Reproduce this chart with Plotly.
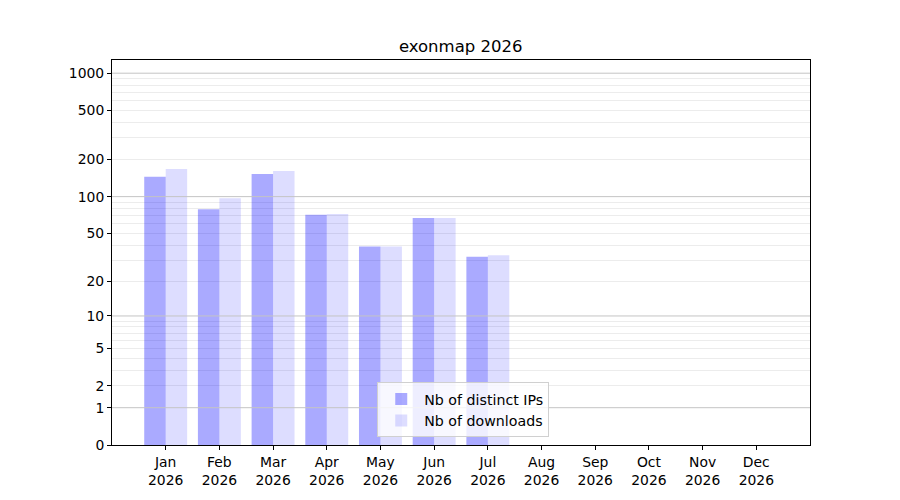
import numpy as np
import plotly.graph_objects as go

# monthly stats for exonmap, 2026
months = ["Jan", "Feb", "Mar", "Apr", "May", "Jun", "Jul", "Aug", "Sep", "Oct", "Nov", "Dec"]
year = "2026"
distinct_ips = [145, 79, 153, 71, 39, 67, 32, 0, 0, 0, 0, 0]
downloads = [168, 97, 162, 72, 39, 67, 33, 0, 0, 0, 0, 0]

y_ticks = [0, 1, 2, 5, 10, 20, 50, 100, 200, 500, 1000]
major_grid = [1, 10, 100, 1000]
minor_grid = [2, 3, 4, 5, 6, 7, 8, 9,
              20, 30, 40, 50, 60, 70, 80, 90,
              200, 300, 400, 500, 600, 700, 800, 900]


def scale(v):
    # y axis is log10(1 + n) so that zero stays on the chart
    return np.log10(1 + np.asarray(v, dtype=float))


x_labels = [f"{m}<br>{year}" for m in months]

fig = go.Figure()
fig.add_trace(go.Bar(x=x_labels, y=scale(distinct_ips), name="Nb of distinct IPs",
                     marker=dict(color="rgba(0,0,255,0.333)", line_width=0)))
fig.add_trace(go.Bar(x=x_labels, y=scale(downloads), name="Nb of downloads",
                     marker=dict(color="rgba(0,0,255,0.133)", line_width=0)))

# darker lines at the decades
for v in major_grid:
    fig.add_hline(y=float(scale(v)), line_color="#c4c4c4", line_width=1, layer="above")

fig.update_layout(
    width=900, height=500,
    title=dict(text="exonmap 2026", x=0.503, xanchor="center", y=0.924, yanchor="middle",
               font=dict(size=16.5, color="black")),
    font=dict(family="DejaVu Sans", size=13.9, color="black"),
    plot_bgcolor="white", paper_bgcolor="white",
    margin=dict(l=104, r=98, t=52, b=63),
    barmode="group", bargap=0.2, bargroupgap=0,
    legend=dict(x=0.38, y=0.02, xanchor="left", yanchor="bottom",
                bgcolor="rgba(255,255,255,0.8)", bordercolor="#d0d0d0", borderwidth=1,
                font=dict(size=14.2), tracegroupgap=0, itemwidth=36),
)

fig.update_xaxes(range=[-1, 12], showline=True, mirror=True, linecolor="black", linewidth=1,
                 ticks="outside", ticklen=4, tickcolor="black", showgrid=False)
fig.update_yaxes(range=[0, 3.107], showline=True, mirror=True, linecolor="black", linewidth=1,
                 ticks="outside", ticklen=4, tickcolor="black",
                 tickmode="array", tickvals=scale(y_ticks), ticktext=[str(t) for t in y_ticks],
                 showgrid=False, zeroline=False,
                 minor=dict(tickmode="array", tickvals=scale(minor_grid), showgrid=True,
                            gridcolor="#ececec", gridwidth=1, ticks=""))

fig.write_html("out.html")
